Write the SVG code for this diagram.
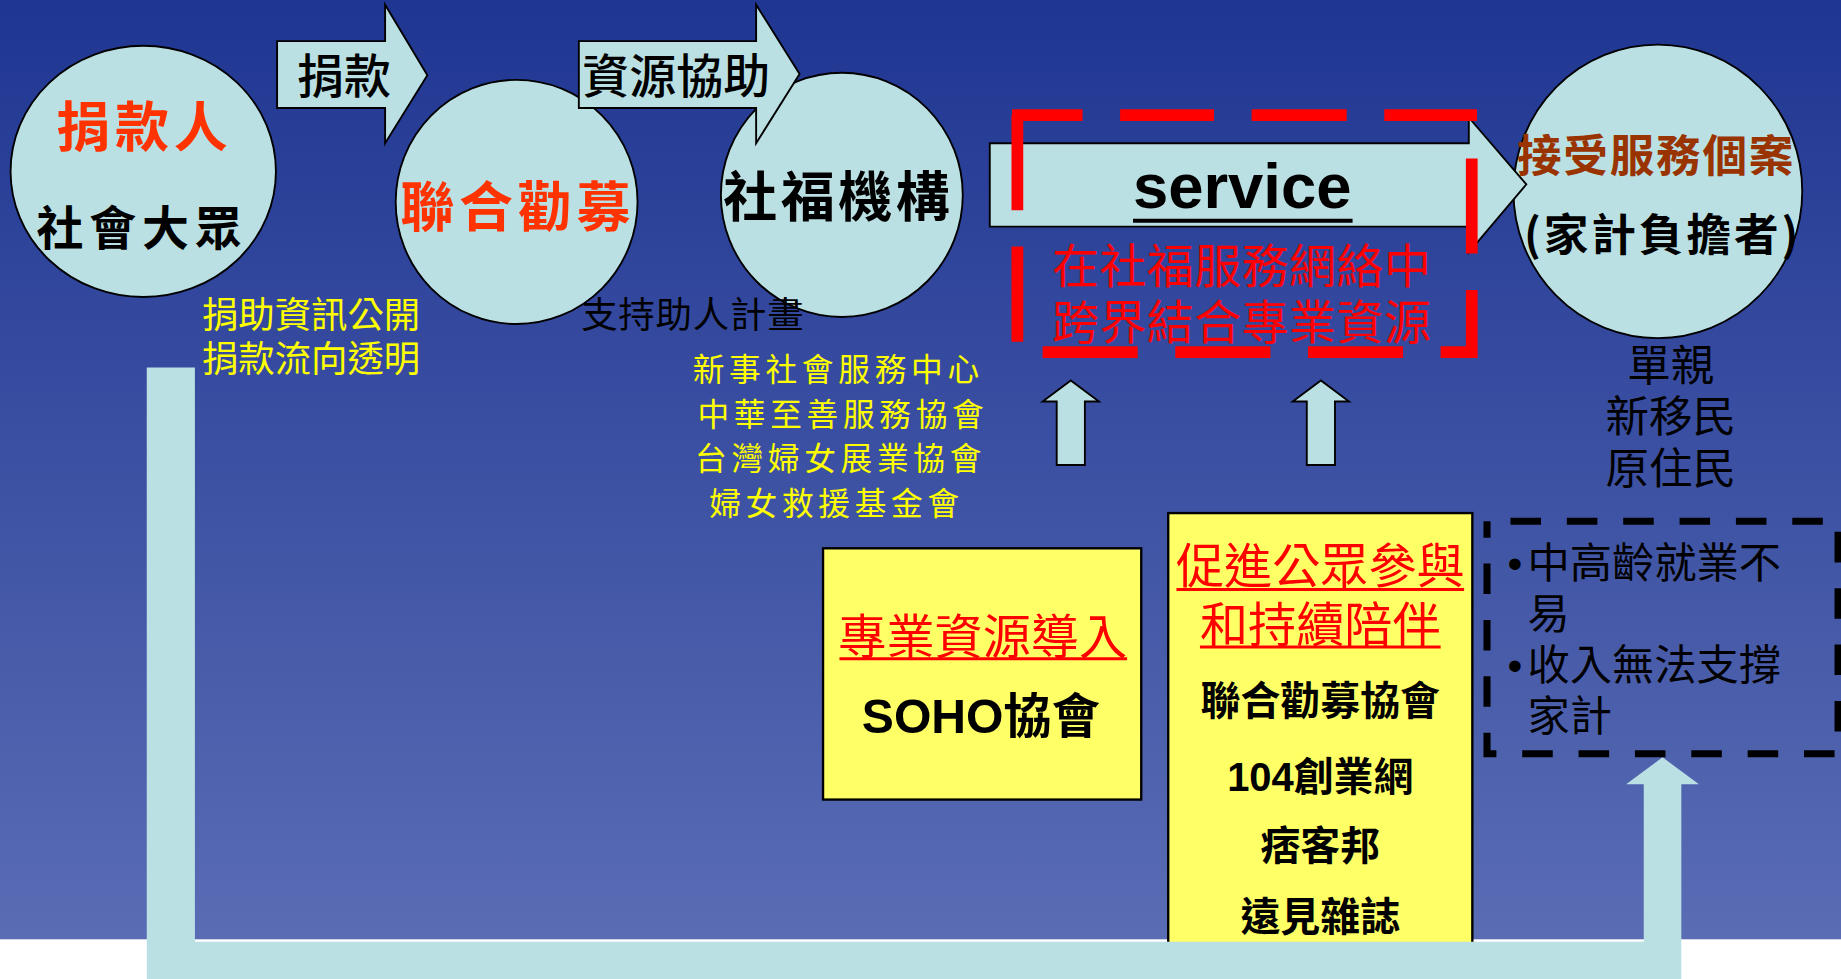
<svg xmlns="http://www.w3.org/2000/svg" width="1841" height="979" viewBox="0 0 1841 979">
<style>
.cjk{font-family:"Noto Sans CJK TC","Noto Sans CJK SC",sans-serif}
.lat{font-family:"Liberation Sans","Noto Sans CJK TC",sans-serif}
.node{fill:#bbe0e3;stroke:#000;stroke-width:1.6}
.ybox{fill:#ffff66;stroke:#000;stroke-width:2}
.redd{stroke:#ff0000;stroke-width:10;fill:none}
.ul{stroke-width:2.6}
</style>
<defs>
<linearGradient id="bg" x1="0" y1="0" x2="0" y2="1">
<stop offset="0" stop-color="#1f3692"/>
<stop offset="1" stop-color="#5a6cb4"/>
</linearGradient>
</defs>
<g transform="scale(1.17411)">
<g id="background">
<rect x="0" y="0" width="1568" height="835" fill="#ffffff"/>
<rect x="0" y="0" width="1568" height="800" fill="url(#bg)"/>
</g>

<g id="node-donor">
<ellipse class="node" cx="122" cy="146" rx="113" ry="107"/>
<text class="cjk" x="48" y="125.6" font-size="46" font-weight="700" letter-spacing="4" fill="#ff3300">捐款人</text>
<text class="cjk" x="31" y="208.4" font-size="40" font-weight="700" letter-spacing="5" fill="#000">社會大眾</text>
</g>
<g id="node-unitedway">
<ellipse class="node" cx="440" cy="172" rx="103" ry="104"/>
<text class="cjk" x="341" y="193.6" font-size="46" font-weight="700" letter-spacing="4" fill="#ff3300">聯合勸募</text>
</g>
<g id="node-agency">
<ellipse class="node" cx="717" cy="166" rx="103" ry="104"/>
<text class="cjk" x="616" y="184.6" font-size="46" font-weight="700" letter-spacing="3" fill="#000">社福機構</text>
</g>
<g id="node-client">
<ellipse class="node" cx="1412" cy="163" rx="123" ry="125"/>
<text class="cjk" x="1292" y="146.7" font-size="38" font-weight="700" letter-spacing="1.5" fill="#993300">接受服務個案</text>
<text class="cjk" x="1298" y="213.7" font-size="38" font-weight="700" letter-spacing="2.5" fill="#000">(家計負擔者)</text>
</g>

<g id="note-donation">
<text class="cjk" font-size="31" fill="#ffff00"><tspan x="172" y="279.2">捐助資訊公開</tspan><tspan x="172" y="317.2">捐款流向透明</tspan></text>
</g>
<g id="note-support">
<text class="cjk" x="495" y="279.2" font-size="31" letter-spacing="0.7" fill="#000">支持助人計畫</text>
</g>
<g id="note-agencies">
<text class="cjk" font-size="27" letter-spacing="4" fill="#ffff00"><tspan x="590" y="324.7">新事社會服務中心</tspan><tspan x="594" y="362.7">中華至善服務協會</tspan><tspan x="592" y="400.7">台灣婦女展業協會</tspan><tspan x="604" y="438.7">婦女救援基金會</tspan></text>
</g>
<g id="note-groups">
<text class="cjk" font-size="37" fill="#000" text-anchor="middle"><tspan x="1423" y="324.3">單親</tspan><tspan x="1423" y="368.3">新移民</tspan><tspan x="1423" y="412.3">原住民</tspan></text>
</g>

<g id="node-professional">
<rect class="ybox" x="701" y="467" width="271" height="214"/>
<text class="cjk" x="714" y="556.8" font-size="41" fill="#ff0000">專業資源導入</text>
<line class="ul" x1="715" y1="561" x2="960" y2="561" stroke="#ff0000"/>
<text class="lat" x="734" y="624" font-size="41" font-weight="700" fill="#000">SOHO協會</text>
</g>
<g id="node-participation">
<rect class="ybox" x="995" y="437" width="259" height="370"/>
<text class="cjk" font-size="41" text-anchor="middle" fill="#ff0000"><tspan x="1124.5" y="496.8">促進公眾參與</tspan><tspan x="1124.5" y="546.8">和持續陪伴</tspan></text>
<line class="ul" x1="1002" y1="502" x2="1247" y2="502" stroke="#ff0000"/>
<line class="ul" x1="1022" y1="551" x2="1227" y2="551" stroke="#ff0000"/>
<text class="lat" font-size="34" font-weight="700" fill="#000" text-anchor="middle"><tspan x="1124.5" y="609.2">聯合勸募協會</tspan><tspan x="1124.5" y="674">104創業網</tspan><tspan x="1124.5" y="732.2">痞客邦</tspan><tspan x="1124.5" y="793.2">遠見雜誌</tspan></text>
</g>

<g id="connectors">
<path class="node" d="M236,35 H328 V4 L364,64 L328,122 V92 H236 Z"/>
<text class="cjk" x="253" y="79.4" font-size="40" font-weight="500" fill="#000">捐款</text>
<path class="node" d="M493,35 H644 V4 L681,63 L644,122 V92 H493 Z"/>
<text class="cjk" x="496" y="79.4" font-size="40" font-weight="500" fill="#000">資源協助</text>
<path class="node" d="M843,122 H1251 V100 L1300,157 L1251,215 V193 H843 Z"/>
<text class="lat" x="1058" y="177" font-size="54" font-weight="700" text-anchor="middle" fill="#000">service</text>
<line x1="965" y1="188" x2="1152" y2="188" stroke="#000" stroke-width="3.5"/>
<path class="node" d="M900,396 V342 H888 L912,324 L936,342 H924 V396 Z"/>
<path class="node" d="M1113,396 V342 H1101 L1125,324 L1149,342 H1137 V396 Z"/>
<path d="M125,313 H166 V802 H1400 V668 H1385 L1416,645 L1447,668 H1432 V835 H125 Z" fill="#bbe0e3"/>
</g>

<g id="node-network">
<path class="redd" d="M866.5,98 V179 M866.5,210 V291 M862,98 H922 M954,98 H1034 M1066,98 H1147 M1179,98 H1258 M1253.5,135 V216 M1253.5,247 V305 M888,300 H969 M1001,300 H1082 M1114,300 H1195 M1227,300 H1258"/>
<text class="cjk" font-size="40" letter-spacing="0.4" fill="#ff0000"><tspan x="896" y="240.9">在社福服務網絡中</tspan><tspan x="896" y="288.9">跨界結合專業資源</tspan></text>
</g>

<g id="node-problems">
<rect x="1266.5" y="444" width="299" height="198" fill="none" stroke="#000" stroke-width="6" stroke-dasharray="26 22" stroke-dashoffset="28"/>
<text class="cjk" font-size="36" fill="#000"><tspan x="1301" y="492">中高齡就業不</tspan><tspan x="1301" y="536">易</tspan><tspan x="1301" y="579">收入無法支撐</tspan><tspan x="1301" y="623">家計</tspan></text>
<text class="lat" font-size="36" fill="#000"><tspan x="1284" y="492">•</tspan><tspan x="1284" y="579">•</tspan></text>
</g>
</g>
</svg>
